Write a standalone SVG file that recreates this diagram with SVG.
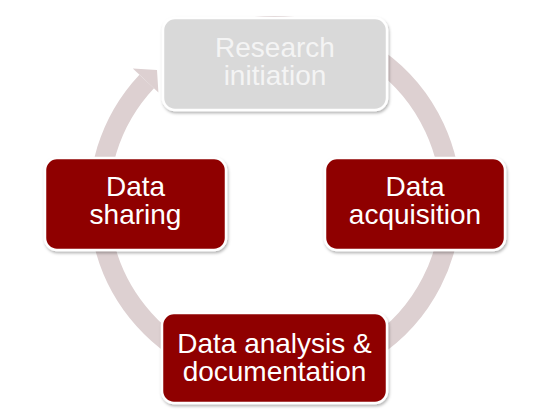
<svg xmlns="http://www.w3.org/2000/svg" width="550" height="412" viewBox="0 0 550 412">
  <style>
    .box { fill: #8f0000; stroke: #ffffff; stroke-width: 2.5; filter: url(#sh); }
    .box.gray { fill: #d9d9d9; }
    .lbl { font-family: "Liberation Sans", Arial, sans-serif; font-size: 28px; fill: #ffffff; text-anchor: middle; }
    .lbl.light { fill: #f4f4f4; }
    .ring { fill: none; stroke: #ddd0d1; stroke-width: 20; }
    .head { fill: #ddd0d1; }
  </style>
  <defs>
    <filter id="sh" x="-10%" y="-10%" width="120%" height="130%">
      <feDropShadow dx="1" dy="2" stdDeviation="1.5" flood-color="#000000" flood-opacity="0.3"/>
    </filter>
  </defs>
  <rect width="550" height="412" fill="#ffffff"/>
  <g id="connectors">
    <path class="ring" d="M 214.8 36.6 A 176 176 0 1 1 146.7 81.5"/>
    <polygon class="head" points="158.4,92.5 132.8,68.5 157,70"/>
  </g>
  <g id="research-initiation">
    <rect class="box gray" x="163" y="18" width="224" height="92" rx="12"/>
    <text class="lbl light" x="275" y="57">Research</text>
    <text class="lbl light" x="275" y="85">initiation</text>
  </g>
  <g id="data-acquisition">
    <rect class="box" x="325" y="158" width="180" height="92" rx="12"/>
    <text class="lbl" x="415" y="196">Data</text>
    <text class="lbl" x="415" y="224">acquisition</text>
  </g>
  <g id="data-analysis">
    <rect class="box" x="162" y="313" width="225" height="90" rx="12"/>
    <text class="lbl" x="274.5" y="353">Data analysis &amp;</text>
    <text class="lbl" x="274.5" y="381">documentation</text>
  </g>
  <g id="data-sharing">
    <rect class="box" x="45" y="158" width="181" height="92" rx="12"/>
    <text class="lbl" x="135.5" y="196">Data</text>
    <text class="lbl" x="135.5" y="224">sharing</text>
  </g>
</svg>
